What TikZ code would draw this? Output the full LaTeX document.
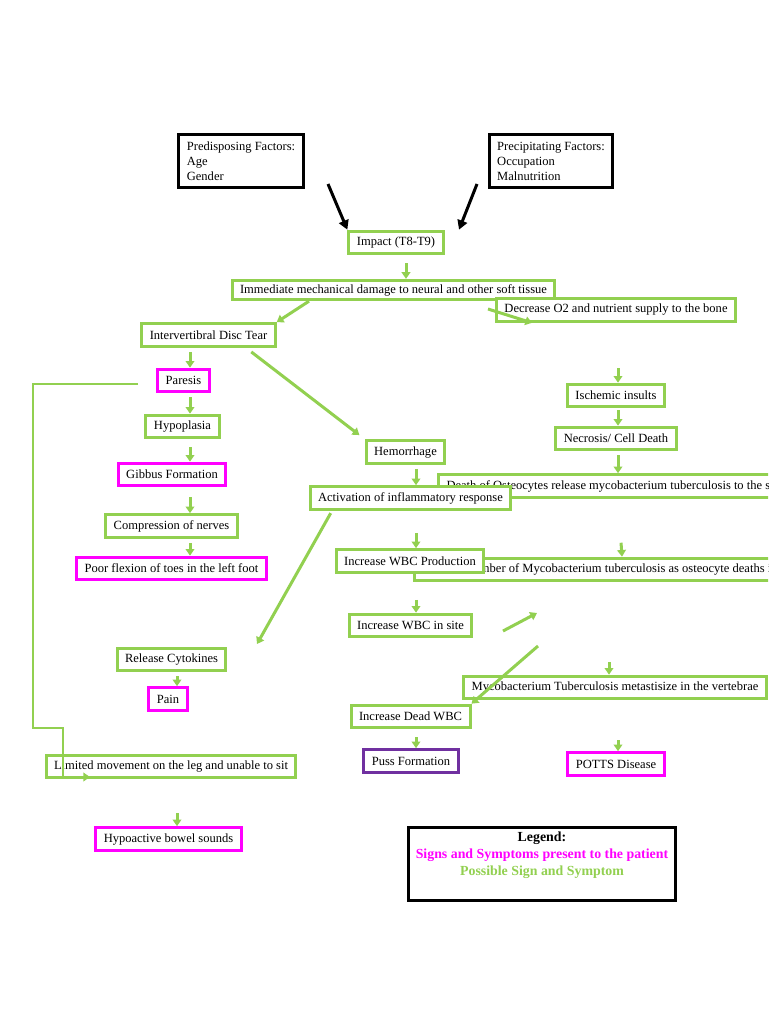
\documentclass[tikz,border=0pt]{standalone}
\usepackage{fontspec}
\setmainfont{Liberation Serif}
\usetikzlibrary{arrows.meta, positioning}

\definecolor{tgreen}{HTML}{92D050}
\definecolor{tmag}{HTML}{FF00FF}
\definecolor{tpurple}{HTML}{7030A0}

\tikzset{
  gbox/.style={draw=tgreen, line width=2.25pt, fill=white, inner xsep=6pt, inner ysep=2pt, minimum height=17pt},
  mbox/.style={gbox, draw=tmag},
  pbox/.style={gbox, draw=tpurple},
  kbox/.style={draw=black, line width=2.25pt, fill=white, align=left, inner xsep=6pt, minimum width=92pt, minimum height=40pt},
  garrow/.style={draw=tgreen, line width=2.25pt, -{Triangle[length=5pt,width=6.5pt]}},
  karrow/.style={draw=black, line width=2.25pt, -{Triangle[length=7pt,width=7.5pt]}},
}

\begin{document}
\begin{tikzpicture}[x=0.75pt, y=-0.75pt, font=\fontsize{9.4}{11.25}\selectfont]
  \clip (0,0) rectangle (768,1024);
  \fill[white] (0,0) rectangle (768,1024);

  % factors
  \node[kbox] (pre) at (241,161) {Predisposing Factors:\\Age\\Gender};
  \node[kbox] (prec) at (551,161) {Precipitating Factors:\\Occupation\\Malnutrition};
  \node[gbox] (impact) at (396,242.5) {Impact (T8-T9)};
  \node[gbox, minimum height=14.5pt] (damage) at (393.5,290) {Immediate mechanical damage to neural and other soft tissue};
  \node[gbox] (decrease) at (616,310) {Decrease O2 and nutrient supply to the bone};
  \node[gbox] (disc) at (208.5,335) {Intervertibral Disc Tear};

  % left column
  \node[mbox] (paresis) at (183.5,380.5) {Paresis};
  \node[gbox] (hypo) at (182.5,426.5) {Hypoplasia};
  \node[mbox] (gibbus) at (172,474.5) {Gibbus Formation};
  \node[gbox] (nerves) at (171.5,526) {Compression of nerves};
  \node[mbox] (flexion) at (171.5,568.5) {Poor flexion of toes in the left foot};
  \node[gbox] (cytokines) at (171.5,659.5) {Release Cytokines};
  \node[mbox] (pain) at (168,699) {Pain};
  \node[gbox] (limited) at (171,766.5) {Limited movement on the leg and unable to sit};
  \node[mbox] (bowel) at (168.5,839) {Hypoactive bowel sounds};

  % right column
  \node[gbox] (ischemic) at (616,395.5) {Ischemic insults};
  \node[gbox] (necrosis) at (616,438.5) {Necrosis/ Cell Death};
  \node[gbox] (hemorrhage) at (405.5,452) {Hemorrhage};
  \node[gbox, anchor=west] (osteo) at (437,486) {Death of Osteocytes release mycobacterium tuberculosis to the site};
  \node[gbox] (inflam) at (410.5,498) {Activation of inflammatory response};
  \node[gbox, anchor=west] (mtbcount) at (413,569.5) {Increase number of Mycobacterium tuberculosis as osteocyte deaths increase};
  \node[gbox] (wbcprod) at (410,561) {Increase WBC Production};
  \node[gbox] (wbcsite) at (410.5,625.5) {Increase WBC in site};
  \node[gbox] (metast) at (615,687.5) {Mycobacterium Tuberculosis metastisize in the vertebrae};
  \node[gbox] (deadwbc) at (410.5,716.5) {Increase Dead WBC};
  \node[pbox] (puss) at (411,761) {Puss Formation};
  \node[mbox] (potts) at (616,764) {POTTS Disease};

  % legend
  \node[draw=black, line width=2.25pt, minimum width=200pt, minimum height=55pt] (legend) at (542,864) {};
  \node[align=center, font=\fontsize{10.4}{12.75}\selectfont\bfseries] (legendtxt) at (542,855)
    {Legend:\\\textcolor{tmag}{Signs and Symptoms present to the patient}\\\textcolor{tgreen}{Possible Sign and Symptom}};

  % free ends
  \coordinate (preout) at (328,184);
  \coordinate (precout) at (477,184);
  \coordinate (o2out) at (488,309);
  \coordinate (cytin) at (257,644);
  \coordinate (upstart) at (503,631);
  \coordinate (upend) at (537,613);
  \coordinate (downstart) at (538,646);
  \coordinate (metin) at (609,662);
  \coordinate (pout) at (138,384);
  \coordinate (pin) at (90,777);

  \draw[karrow] (preout) -- (impact.north west);
  \draw[karrow] (precout) -- (459,0 |- impact.north);

  \draw[garrow, shorten <=6pt] (406,0 |- impact.south) -- (406,0 |- damage.north);
  \draw[garrow] (309,0 |- damage.south) -- (disc.north east);
  \draw[garrow] (o2out) -- (532,0 |- decrease.south);
  \draw[garrow, shorten <=3pt] (190,0 |- disc.south) -- (190,0 |- paresis.north);
  \draw[garrow, shorten <=3pt] (190,0 |- paresis.south) -- (190,0 |- hypo.north);
  \draw[garrow, shorten <=6pt] (190,0 |- hypo.south) -- (190,0 |- gibbus.north);
  \draw[garrow, shorten <=7.5pt] (190,0 |- gibbus.south) -- (190,0 |- nerves.north);
  \draw[garrow, shorten <=3pt] (190,0 |- nerves.south) -- (190,0 |- flexion.north);
  \draw[garrow, shorten <=34pt] (618,0 |- decrease.south) -- (618,0 |- ischemic.north);
  \draw[garrow, shorten <=1.5pt] (618,0 |- ischemic.south) -- (618,0 |- necrosis.north);
  \draw[garrow, shorten <=3pt] (618,0 |- necrosis.south) -- (618,0 |- osteo.north);
  \draw[garrow, shorten <=5pt, shorten >=5pt] (246,0 |- disc.south) -- (hemorrhage.north west);
  \draw[garrow, shorten <=3pt] (416,0 |- hemorrhage.south) -- (416,0 |- inflam.north);
  \draw[garrow, shorten <=33pt] (618,0 |- osteo.south) -- (622,0 |- mtbcount.north);
  \draw[garrow, shorten <=16.5pt] (416,0 |- inflam.south) -- (416,0 |- wbcprod.north);
  \draw[garrow, shorten <=19.5pt] (416,0 |- wbcprod.south) -- (416,0 |- wbcsite.north);
  \draw[garrow, shorten <=2pt] (332,0 |- inflam.south) -- (cytin);
  \draw[garrow] (upstart) -- (upend);
  \draw[garrow] (downstart) -- (deadwbc.north east);
  \draw[garrow] (metin) -- (609,0 |- metast.north);
  \draw[garrow, shorten <=6pt] (416,0 |- deadwbc.south) -- (416,0 |- puss.north);
  \draw[garrow, shorten <=30pt] (618,0 |- metast.south) -- (618,0 |- potts.north);
  \draw[garrow, shorten <=3pt] (177,0 |- cytokines.south) -- (177,0 |- pain.north);
  \draw[garrow, shorten <=25.5pt] (177,0 |- limited.south) -- (177,0 |- bowel.north);
  \draw[garrow, line width=1.5pt] (pout) -| (33,728) -| (63,777) -- (pin);
\end{tikzpicture}
\end{document}
